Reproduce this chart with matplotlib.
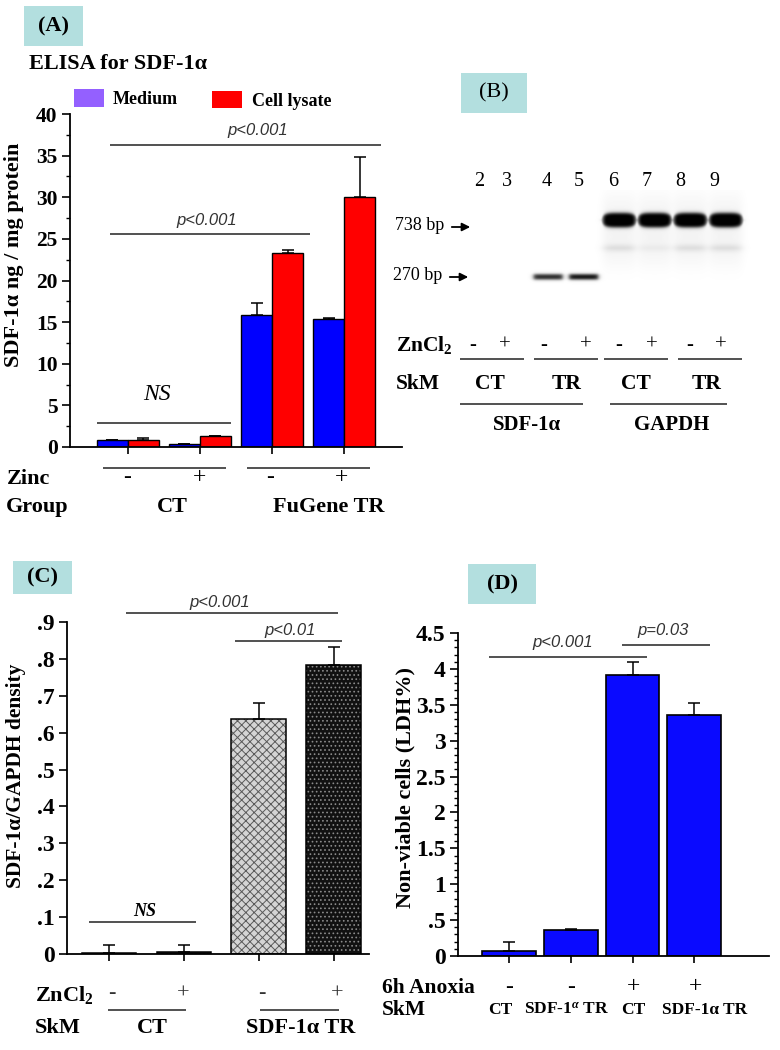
import matplotlib.pyplot as plt
import numpy as np
from matplotlib.patches import Rectangle
from matplotlib.ticker import MultipleLocator

plt.rcParams['font.family'] = ['Liberation Serif', 'DejaVu Serif']
plt.rcParams['mathtext.fontset'] = 'custom'
plt.rcParams['mathtext.rm'] = 'Liberation Serif:bold'
plt.rcParams['mathtext.it'] = 'Liberation Serif:italic:bold'
plt.rcParams['mathtext.bf'] = 'Liberation Serif:bold'
plt.rcParams['hatch.linewidth'] = 0.7

# ---- data ----
# (A) ELISA
a_medium = [0.8, 0.4, 15.9, 15.4]
a_medium_err = [0.05, 0.0, 1.4, 0.05]
a_lysate = [0.8, 1.3, 23.3, 30.0]
a_lysate_err = [0.3, 0.05, 0.4, 4.8]
a_zinc = ['-', '+', '-', '+']

# (B) gel lanes 4-9, band strength
gel_lanes = [4, 5, 6, 7, 8, 9]
sdf_band = [0.85, 0.95, 0, 0, 0, 0]
gapdh_band = [0, 0, 1.0, 1.0, 1.0, 1.0]
gapdh_faint = [0, 0, 0.11, 0.05, 0.11, 0.11]
lane_numbers = ['2', '3', '4', '5', '6', '7', '8', '9']

# (C) densitometry
c_ratio = [0.002, 0.005, 0.637, 0.783]
c_err = [0.023, 0.02, 0.043, 0.05]
c_zinc = ['-', '+', '-', '+']

# (D) LDH
d_ldh = [0.07, 0.36, 3.92, 3.36]
d_err = [0.12, 0.02, 0.18, 0.16]
d_anoxia = ['-', '-', '+', '+']
d_skm = ['CT', 'SDF-1$^{α}$ TR', 'CT', 'SDF-1α TR']

W, H = 780, 1050
fig = plt.figure(figsize=(7.8, 10.5), dpi=100)


def box(l, t, r, b):
    return [l / W, 1 - b / H, (r - l) / W, (b - t) / H]


def style_axis(ax, size):
    for s in ['top', 'right']:
        ax.spines[s].set_visible(False)
    for s in ['left', 'bottom']:
        ax.spines[s].set_linewidth(1.3)
    ax.tick_params(axis='y', which='major', direction='out', length=6, width=1.2, labelsize=size, pad=3)
    ax.tick_params(axis='y', which='minor', direction='out', length=3, width=1)
    ax.tick_params(axis='x', direction='out', length=5, width=1.2, labelbottom=False)
    for lbl in ax.get_yticklabels():
        lbl.set_fontweight('bold')


ekw = dict(lw=1.1, capthick=1.1)

# ---- (A) ----
axA = fig.add_axes(box(70, 114, 402, 447))
x = np.arange(len(a_medium))
axA.bar(x - 0.215, a_medium, 0.43, color='#0000ff', edgecolor='black', lw=1,
        yerr=[np.zeros(4), a_medium_err], capsize=4, error_kw=ekw)
axA.bar(x + 0.215, a_lysate, 0.43, color='#ff0000', edgecolor='black', lw=1,
        yerr=[np.zeros(4), a_lysate_err], capsize=4, error_kw=ekw)
axA.set_xlim(-0.8, 3.8)
axA.set_ylim(0, 40)
axA.yaxis.set_major_locator(MultipleLocator(5))
axA.yaxis.set_minor_locator(MultipleLocator(2.5))
axA.set_xticks(x)
style_axis(axA, 15.5)

# ---- (C) ----
axC = fig.add_axes(box(67, 622, 369, 954))
x = np.arange(len(c_ratio))
faces = ['#1a1a1a', '#1a1a1a', '#d4d4d4', '#111111']
hatch_cols = ['#9a9a9a', '#9a9a9a', '#5a5a5a', '#8a8a8a']
hatches = ['....', '....', 'xxxx', '....']
for i in range(len(c_ratio)):
    axC.bar(x[i], c_ratio[i], 0.73, color=faces[i], edgecolor=hatch_cols[i], hatch=hatches[i], lw=0)
axC.bar(x, c_ratio, 0.73, fill=False, edgecolor='black', lw=1.1,
        yerr=[np.zeros(4), c_err], capsize=4, error_kw=ekw)
axC.set_xlim(-0.56, 3.47)
axC.set_ylim(0, 0.9)
axC.set_yticks(np.arange(0, 0.91, 0.1))
axC.set_yticklabels(['0', '.1', '.2', '.3', '.4', '.5', '.6', '.7', '.8', '.9'])
axC.set_xticks(x)
style_axis(axC, 17)

# ---- (D) ----
axD = fig.add_axes(box(458, 633, 769, 956))
x = np.arange(len(d_ldh))
axD.bar(x, d_ldh, 0.87, color='#0a0aff', edgecolor='black', lw=1.2,
        yerr=[np.zeros(4), d_err], capsize=4, error_kw=ekw)
axD.set_xlim(-0.83, 4.21)
axD.set_ylim(0, 4.5)
axD.set_yticks(np.arange(0, 4.51, 0.5))
axD.set_yticklabels(['0', '.5', '1', '1.5', '2', '2.5', '3', '3.5', '4', '4.5'])
axD.yaxis.set_minor_locator(MultipleLocator(0.1))
axD.set_xticks(x)
style_axis(axD, 17)

# ---- overlay for labels, annotations and gel ----
ov = fig.add_axes([0, 0, 1, 1], zorder=10)
ov.set_xlim(0, W)
ov.set_ylim(H, 0)
ov.axis('off')
ov.patch.set_alpha(0)


def txt(x, y, s, ha='center', va='center', **kw):
    ov.text(x, y, s, ha=ha, va=va, **kw)


def hl(x0, x1, y, color='#222222', lw=1.1):
    ov.plot([x0, x1], [y, y], color=color, lw=lw, solid_capstyle='butt')


def tag(l, t, w, h, s, weight='bold'):
    ov.add_patch(Rectangle((l, t), w, h, color='#b3dfdf', lw=0))
    txt(l + w / 2, t + h / 2, s, fontsize=16, fontweight=weight)


pfont = dict(family=['Liberation Sans', 'DejaVu Sans'], style='italic', fontsize=12, color='#333333')
bold = dict(fontweight='bold')

# (A) annotations
tag(24, 6, 59, 40, '(A)')
txt(29, 64, 'ELISA for SDF-1α', ha='left', fontsize=16, **bold)
ov.add_patch(Rectangle((74, 89), 30, 18, color='#9460ff', lw=0))
txt(113, 100, 'Medium', ha='left', fontsize=13, **bold)
ov.add_patch(Rectangle((212, 91), 30, 17, color='#ff0000', lw=0))
txt(252, 101, 'Cell lysate', ha='left', fontsize=13, **bold)
hl(110, 381, 145)
txt(258, 130, 'p<0.001', **pfont)
hl(110, 310, 234)
txt(207, 220, 'p<0.001', **pfont)
hl(97, 231, 423)
txt(157, 395, 'NS', fontsize=17, style='italic')
txt(14, 255, 'SDF-1α ng / mg protein', rotation=90, fontsize=16, **bold)
txt(7, 479, 'Zinc', ha='left', fontsize=16, **bold)
hl(103, 226, 468)
hl(247, 370, 468)
for xp, s in zip([127, 199, 270, 342], a_zinc):
    txt(xp, 478, s, fontsize=17)
txt(6, 507, 'Group', ha='left', fontsize=16, **bold)
txt(172, 507, 'CT', fontsize=16, **bold)
txt(329, 507, 'FuGene TR', fontsize=16, **bold)

# (B) gel
tag(461, 73, 66, 40, '(B)', weight='normal')
for xp, s in zip([479, 507, 547, 579, 613, 647, 680, 714], lane_numbers):
    txt(xp, 181, s, fontsize=14.5)
gx0, gx1, gy0, gy1 = 520, 752, 190, 295
gx = np.linspace(gx0, gx1, 464)
gy = np.linspace(gy0, gy1, 210)
GX, GY = np.meshgrid(gx, gy)
dark = np.zeros_like(GX)


def sbox(d, half, soft):
    return 1 / (1 + np.exp(-(half - np.abs(d)) / soft))


for lane, s1, s2, s3 in zip(gel_lanes, sdf_band, gapdh_band, gapdh_faint):
    cx = 548 + (lane - 4) * 35.6
    dark += s1 * sbox(GX - cx, 14.5, 1.2) * sbox(GY - 277, 2.6, 0.8)
    # rounded band: thickness shrinks near lane edges
    half_t = 7.2 * np.sqrt(np.clip(1 - ((GX - cx) / 18.0) ** 4, 0, 1))
    dark += s2 * sbox(GX - cx, 16.5, 1.2) * sbox(GY - 220, half_t, 1.0)
    dark += s3 * sbox(GX - cx, 15, 2.5) * sbox(GY - 248, 2.5, 1.5)
    dark += 0.045 * (s2 > 0) * sbox(GX - cx, 16, 2.5) * sbox(GY - 230, 33, 7)
dark = np.clip(dark, 0, 1)
ov.imshow(1 - dark, cmap='gray', vmin=0, vmax=1, extent=(gx0, gx1, gy1, gy0),
          aspect='auto', interpolation='bilinear')
ov.set_xlim(0, W)
ov.set_ylim(H, 0)
txt(395, 226, '738 bp', ha='left', fontsize=13)
ov.annotate('', xy=(473, 227), xytext=(449, 227),
            arrowprops=dict(arrowstyle='-|>', color='black', lw=1.3, mutation_scale=12))
txt(393, 276, '270 bp', ha='left', fontsize=13)
ov.annotate('', xy=(471, 277), xytext=(447, 277),
            arrowprops=dict(arrowstyle='-|>', color='black', lw=1.3, mutation_scale=12))
txt(396, 345, 'ZnCl$_2$', ha='left', fontsize=15.5, **bold)
for xp, s in zip([473, 505, 544, 586, 619, 652, 690, 721], ['-', '+'] * 4):
    txt(xp, 345, s, fontsize=15)
for a, b in [(460, 524), (534, 598), (604, 668), (678, 742)]:
    hl(a, b, 359)
txt(396, 384, 'SkM', ha='left', fontsize=15.5, **bold)
for xp, s in zip([490, 567, 636, 707], ['CT', 'TR', 'CT', 'TR']):
    txt(xp, 384, s, fontsize=15.5, **bold)
hl(460, 583, 404)
hl(610, 727, 404)
txt(527, 425, 'SDF-1α', fontsize=15, **bold)
txt(672, 425, 'GAPDH', fontsize=15, **bold)

# (C) annotations
tag(13, 561, 59, 33, '(C)')
hl(126, 338, 613)
txt(220, 602, 'p<0.001', **pfont)
hl(235, 342, 641)
txt(290, 630, 'p<0.01', **pfont)
hl(89, 196, 922)
txt(145, 911, 'NS', fontsize=13, fontweight='bold', style='italic')
txt(16, 776, 'SDF-1α/GAPDH density', rotation=90, fontsize=15.5, **bold)
txt(35, 995, 'ZnCl$_2$', ha='left', fontsize=16, **bold)
for xp, s in zip([112, 183, 262, 337], c_zinc):
    txt(xp, 994, s, fontsize=16, color='#333333')
hl(108, 186, 1010)
hl(260, 339, 1010)
txt(35, 1028, 'SkM', ha='left', fontsize=16, **bold)
txt(152, 1028, 'CT', fontsize=16, **bold)
txt(301, 1028, 'SDF-1α TR', fontsize=16, **bold)

# (D) annotations
tag(468, 564, 68, 40, '(D)')
hl(489, 647, 657)
txt(563, 642, 'p<0.001', **pfont)
hl(622, 710, 645)
txt(663, 631, 'p=0.03', **pfont)
txt(405, 787, 'Non-viable cells (LDH%)', rotation=90, fontsize=16, **bold)
txt(382, 988, '6h Anoxia', ha='left', fontsize=15.5, **bold)
for xp, s in zip([509, 571, 633, 695], d_anoxia):
    txt(xp, 987, s, fontsize=17)
txt(382, 1010, 'SkM', ha='left', fontsize=15.5, **bold)
for xp, s in zip([500, 567, 633, 705], d_skm):
    txt(xp, 1010, s, fontsize=12.5, **bold)

fig.savefig('out.png', dpi=100)
